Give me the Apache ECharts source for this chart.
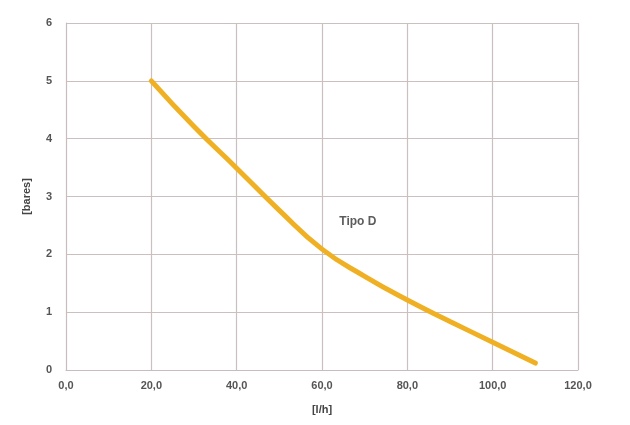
<!DOCTYPE html>
<html><head><meta charset="utf-8">
<script src="https://cdn.jsdelivr.net/npm/echarts@6/dist/echarts.min.js"></script>
<style>html,body{margin:0;padding:0;background:#fff}#c{width:630px;height:425px}</style>
</head><body><div id="c"></div>
<script>
const flowValues = [20, 30, 40, 50, 60, 70, 80, 90, 100, 110];
const pressureValues = [5.0, 4.21, 3.49, 2.76, 2.09, 1.62, 1.21, 0.84, 0.48, 0.12];
const seriesLabel = 'Tipo D';
const labelPos = [68.4, 2.56];
const xAxisName = '[l/h]';
const yAxisName = '[bares]';

const chart = echarts.init(document.getElementById('c'));
const font = 'Liberation Sans';
chart.setOption({
  animation: false,
  backgroundColor: '#fff',
  grid: {left: 66, right: 52, top: 23, bottom: 55, containLabel: false},
  xAxis: {
    type: 'value', min: 0, max: 120, interval: 20,
    name: xAxisName, nameLocation: 'middle', nameGap: 34,
    nameTextStyle: {color: '#444', fontFamily: font, fontSize: 11, fontWeight: 'bold'},
    axisLine: {show: true, lineStyle: {color: '#c9bcbc'}},
    axisTick: {show: false},
    splitLine: {show: true, lineStyle: {color: '#cbbfbf', width: 1.2}},
    axisLabel: {color: '#555', fontFamily: font, fontSize: 11, fontWeight: 'bold', margin: 10,
      formatter: v => v.toFixed(1).replace('.', ',')}
  },
  yAxis: {
    type: 'value', min: 0, max: 6, interval: 1,
    name: yAxisName, nameLocation: 'middle', nameGap: 34, nameRotate: 90,
    nameTextStyle: {color: '#444', fontFamily: font, fontSize: 11, fontWeight: 'bold'},
    axisLine: {show: true, lineStyle: {color: '#c9bcbc'}},
    axisTick: {show: false},
    splitLine: {show: true, lineStyle: {color: '#cbbfbf', width: 1.2}},
    axisLabel: {color: '#555', fontFamily: font, fontSize: 11, fontWeight: 'bold', margin: 14}
  },
  series: [{
    type: 'line', smooth: true, showSymbol: false,
    data: flowValues.map((x, i) => [x, pressureValues[i]]),
    lineStyle: {color: '#f0b023', width: 5, cap: 'round'},
    itemStyle: {color: '#f0b023'}
  }, {
    type: 'scatter', symbolSize: 0,
    data: [labelPos],
    label: {show: true, position: 'inside', formatter: seriesLabel, color: '#333',
      fontFamily: font, fontSize: 12, fontWeight: 'bold'}
  }]
});
</script></body></html>
